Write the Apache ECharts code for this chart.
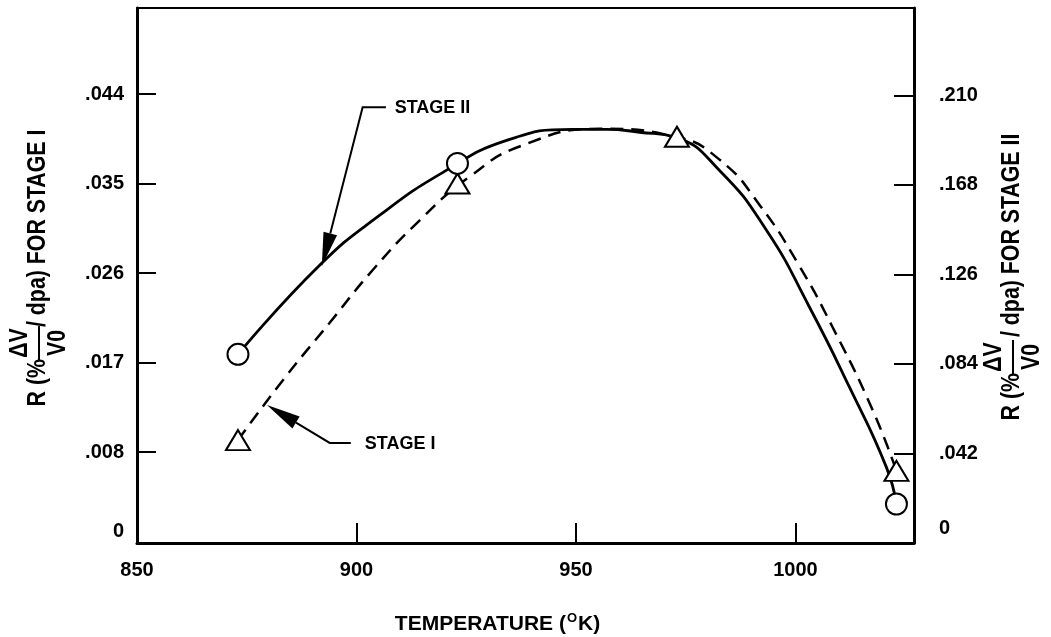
<!DOCTYPE html>
<html lang="en">
<head>
<meta charset="utf-8">
<script src="https://cdn.jsdelivr.net/npm/echarts@6/dist/echarts.min.js"></script>
<style>
  html, body { margin: 0; padding: 0; background: #fff; }
  #chart { width: 1051px; height: 637px; }
</style>
</head>
<body>
<div id="chart"></div>
<script>
var FONT = '"Liberation Sans", Arial, sans-serif';

// tick values
var xTicks = [850, 900, 950, 1000];
var leftTicks = [0.008, 0.017, 0.026, 0.035, 0.044];
var leftLabels = [0, 0.008, 0.017, 0.026, 0.035, 0.044];
var rightTicks = [0.042, 0.084, 0.126, 0.168, 0.210];
var rightLabels = [0, 0.042, 0.084, 0.126, 0.168, 0.210];

// measured points (temperature K)
var stage1MarkT = [873, 923, 973, 1023];
var stage1MarkV = [0.0092, 0.0350, 0.0397, 0.0061];   // left axis
var stage2MarkT = [873, 923, 1023];
var stage2MarkV = [0.0885, 0.1781, 0.0183];           // right axis

// fitted curves
var stage1CurveT = [873, 883.2, 893.9, 903.7, 914.4, 925.8, 937.6, 955.4, 972.7, 982.7, 991.9, 1000.9, 1008.4, 1017.5, 1023];
var stage1CurveV = [0.0092, 0.0152, 0.0210, 0.0263, 0.0313, 0.0357, 0.0388, 0.0405, 0.0397, 0.0374, 0.0328, 0.0267, 0.0206, 0.0123, 0.0061];
var stage2CurveT = [873, 891.6, 905.3, 919.7, 934.2, 949.2, 957.0, 964.5, 972.7, 982.7, 993.4, 1003.2, 1012.3, 1020.7, 1023];
var stage2CurveV = [0.0885, 0.1303, 0.1538, 0.1739, 0.1889, 0.1941, 0.1941, 0.1927, 0.1903, 0.1748, 0.1467, 0.1106, 0.0731, 0.0356, 0.0183];

// annotation leaders: [end of horizontal, corner, arrow tip]
var stage2Leader = [[906.7, 0.2044], [901.4, 0.2044], [892.1, 0.1298]];
var stage2LabelAt = [908.7, 0.2039];
var stage1Leader = [[898.7, 0.00891], [893.9, 0.00891], [879.6, 0.01273]];
var stage1LabelAt = [901.9, 0.00881];

function dot3(v) {
    if (v === 0) return '0';
    return '.' + String(Math.round(v * 1000)).padStart(3, '0');
}
function zip(a, b) {
    return a.map(function (x, i) { return [x, b[i]]; });
}

var chart = echarts.init(document.getElementById('chart'));
var labelStyle = { color: '#000', fontFamily: FONT, fontWeight: 'bold', fontSize: 20 };
var markStyle = { color: '#fff', borderColor: '#000', borderWidth: 2, opacity: 1 };

var option = {
    animation: false,
    backgroundColor: '#fff',
    grid: {
        left: 137, right: 137, top: 8, bottom: 94,
        containLabel: false, outerBoundsMode: 'none',
        show: true, borderColor: '#000', borderWidth: 2
    },
    xAxis: {
        type: 'value', min: 850, max: 1027,
        axisLine: { onZero: false, lineStyle: { color: '#000', width: 3 } },
        axisTick: { inside: true, length: 20, customValues: xTicks, lineStyle: { color: '#000', width: 2 } },
        axisLabel: Object.assign({ customValues: xTicks, margin: 17, formatter: function (v) { return String(v); } }, labelStyle),
        splitLine: { show: false },
        name: '{t|TEMPERATURE (}{s|O}{t|K)}',
        nameLocation: 'middle', nameGap: 69,
        nameTextStyle: {
            padding: [0, 56, 0, 0],
            rich: {
                t: { color: '#000', fontFamily: FONT, fontWeight: 'bold', fontSize: 21 },
                s: { color: '#000', fontFamily: FONT, fontWeight: 'bold', fontSize: 13, padding: [0, 1, 12, 1] }
            }
        }
    },
    yAxis: [{
        type: 'value', position: 'left', min: -0.00115, max: 0.05265,
        axisLine: { show: true, lineStyle: { color: '#000', width: 3 } },
        axisTick: { show: true, inside: true, length: 19, customValues: leftTicks, lineStyle: { color: '#000', width: 2 } },
        axisLabel: Object.assign({ customValues: leftLabels, margin: 13, formatter: dot3 }, labelStyle),
        splitLine: { show: false }
    }, {
        type: 'value', position: 'right', min: 0, max: 0.251,
        axisLine: { show: true, lineStyle: { color: '#000', width: 3 } },
        axisTick: { show: true, inside: true, length: 20, customValues: rightTicks, lineStyle: { color: '#000', width: 2 } },
        axisLabel: Object.assign({
            customValues: rightLabels, margin: 25,
            formatter: function (v) { return v === 0 ? '{z|0}' : dot3(v); },
            rich: { z: { color: '#000', fontFamily: FONT, fontWeight: 'bold', fontSize: 20, padding: [0, 0, 30, 0] } }
        }, labelStyle),
        splitLine: { show: false }
    }],
    series: [{
        name: 'Stage I', type: 'line', xAxisIndex: 0, yAxisIndex: 0,
        data: zip(stage1CurveT, stage1CurveV),
        showSymbol: false, smooth: 0.5, silent: true, z: 2,
        lineStyle: { color: '#000', width: 2.5, type: [13, 8] }
    }, {
        name: 'Stage II', type: 'line', xAxisIndex: 0, yAxisIndex: 1,
        data: zip(stage2CurveT, stage2CurveV),
        showSymbol: false, smooth: 0.5, silent: true, z: 2,
        lineStyle: { color: '#000', width: 2.8 }
    }, {
        type: 'scatter', xAxisIndex: 0, yAxisIndex: 0, silent: true, z: 3,
        symbol: 'triangle', symbolSize: [24, 20],
        data: zip(stage1MarkT, stage1MarkV),
        itemStyle: markStyle
    }, {
        type: 'scatter', xAxisIndex: 0, yAxisIndex: 1, silent: true, z: 4,
        symbol: 'circle', symbolSize: 21,
        data: zip(stage2MarkT, stage2MarkV),
        itemStyle: markStyle
    }]
};
chart.setOption(option);

function titleGroup(x, y, tail, rParts) {
    var f = { fill: '#000', fontFamily: FONT, fontWeight: 'bold', fontSize: 26, verticalAlign: 'middle' };
    var sx = 0.82;
    return {
        type: 'group', x: x, y: y, rotation: Math.PI / 2,
        children: [
            { type: 'text', x: rParts.r, y: 0, scaleX: sx, style: Object.assign({ text: 'R (%', align: 'right' }, f) },
            { type: 'text', x: rParts.c, y: -18, scaleX: sx, style: Object.assign({ text: '\u0394V', align: 'center' }, f) },
            { type: 'line', shape: { x1: rParts.c - 17, y1: 1, x2: rParts.c + 17, y2: 1 }, style: { stroke: '#000', lineWidth: 2 } },
            { type: 'text', x: rParts.c, y: 20, scaleX: sx, style: Object.assign({ text: 'V0', align: 'center' }, f) },
            { type: 'text', x: rParts.t, y: 0, scaleX: sx, style: Object.assign({ text: tail, align: 'left' }, f) }
        ]
    };
}

function leader(pts, labelAt, text, yIdx) {
    var p = pts.map(function (d) { return chart.convertToPixel({ xAxisIndex: 0, yAxisIndex: yIdx }, d); });
    var lp = chart.convertToPixel({ xAxisIndex: 0, yAxisIndex: yIdx }, labelAt);
    var tip = p[2], from = p[1];
    var dx = tip[0] - from[0], dy = tip[1] - from[1];
    var len = Math.sqrt(dx * dx + dy * dy);
    var ux = dx / len, uy = dy / len;
    var headL = 34, headW = 7;
    var bx = tip[0] - ux * headL, by = tip[1] - uy * headL;
    return [
        { type: 'polyline', shape: { points: [p[0], p[1], [bx, by]] }, style: { stroke: '#000', lineWidth: 2, fill: null }, z: 10 },
        { type: 'polygon', shape: { points: [tip, [bx - uy * headW, by + ux * headW], [bx + uy * headW, by - ux * headW]] }, style: { fill: '#000' }, z: 10 },
        { type: 'text', x: lp[0], y: lp[1], style: { text: text, fill: '#000', fontFamily: FONT, fontWeight: 'bold', fontSize: 18, verticalAlign: 'middle' }, z: 10 }
    ];
}

chart.setOption({
    graphic: [
        titleGroup(38, 265, '/ dpa) FOR STAGE I', { r: -94, c: -78, t: -62 }),
        titleGroup(1012, 275, '/ dpa) FOR STAGE II', { r: -98, c: -82, t: -62 })
    ].concat(leader(stage2Leader, stage2LabelAt, 'STAGE II', 1))
     .concat(leader(stage1Leader, stage1LabelAt, 'STAGE I', 0))
});
</script>
</body>
</html>
